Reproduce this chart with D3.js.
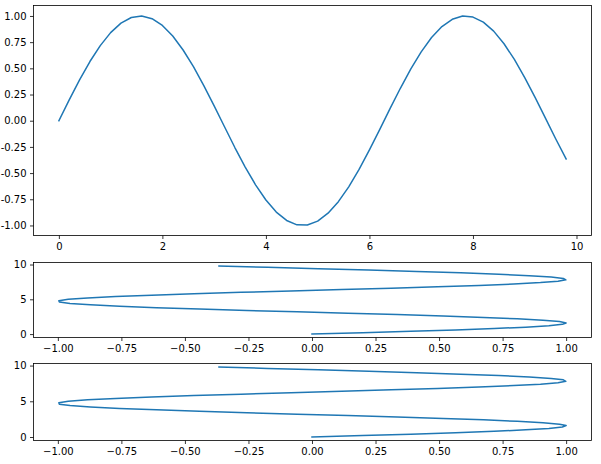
<!DOCTYPE html>
<html>
<head>
<meta charset="utf-8">
<script src="https://cdn.jsdelivr.net/npm/d3@7"></script>
<style>
  body { margin: 0; background: #fff; }
  svg { display: block; }
  .tick text { font-family: "DejaVu Sans", sans-serif; font-size: 10px; fill: #000; }
</style>
</head>
<body>
<svg id="fig" width="601" height="464"></svg>
<script>
const xs = [0, 0.2, 0.4, 0.6, 0.8, 1.0, 1.2, 1.4, 1.6, 1.8,
  2.0, 2.2, 2.4, 2.6, 2.8, 3.0, 3.2, 3.4, 3.6, 3.8,
  4.0, 4.2, 4.4, 4.6, 4.8, 5.0, 5.2, 5.4, 5.6, 5.8,
  6.0, 6.2, 6.4, 6.6, 6.8, 7.0, 7.2, 7.4, 7.6, 7.8,
  8.0, 8.2, 8.4, 8.6, 8.8, 9.0, 9.2, 9.4, 9.6, 9.8];
const ys = [0, 0.199, 0.389, 0.565, 0.717, 0.841, 0.932, 0.985, 1.000, 0.974,
  0.909, 0.808, 0.675, 0.516, 0.335, 0.141, -0.058, -0.256, -0.443, -0.612,
  -0.757, -0.872, -0.952, -0.994, -0.996, -0.959, -0.883, -0.773, -0.631, -0.465,
  -0.279, -0.083, 0.117, 0.312, 0.494, 0.657, 0.794, 0.899, 0.968, 0.999,
  0.989, 0.941, 0.855, 0.735, 0.585, 0.412, 0.223, 0.025, -0.175, -0.366];

const topXTicks = [0, 2, 4, 6, 8, 10];
const topYTicks = [-1, -0.75, -0.5, -0.25, 0, 0.25, 0.5, 0.75, 1];
const sideXTicks = [-1, -0.75, -0.5, -0.25, 0, 0.25, 0.5, 0.75, 1];
const sideYTicks = [0, 5, 10];

const left = 33.5, right = 591.5;
const panels = [
  { top: 5.5, bottom: 235.5, kind: 'wave', minus: '-' },
  { top: 262.5, bottom: 337.5, kind: 'side', minus: '\u2212' },
  { top: 363.5, bottom: 440.5, kind: 'side', minus: '\u2212' },
];

const svg = d3.select('#fig');
const blue = '#1f77b4';

// matplotlib style 5% margins
const padded = (arr) => {
  const [lo, hi] = d3.extent(arr);
  const p = (hi - lo) * 0.05;
  return [lo - p, hi + p];
};

const data = xs.map((x, i) => ({ x: x, y: ys[i] }));

const styleAxis = (g) => {
  g.select('.domain').remove();
  g.selectAll('.tick line').attr('stroke', '#000').attr('stroke-width', 0.8);
};

panels.forEach((p) => {
  let xScale, yScale, xTicks, yTicks, xFmt, yFmt, line;
  if (p.kind === 'wave') {
    xScale = d3.scaleLinear().domain(padded(xs)).range([left, right]);
    yScale = d3.scaleLinear().domain(padded(ys)).range([p.bottom, p.top]);
    xTicks = topXTicks; yTicks = topYTicks;
    xFmt = d => d3.format('d')(d);
    yFmt = d => d3.format('.2f')(d).replace('\u2212', p.minus).replace('-', p.minus);
    line = d3.line().x(d => xScale(d.x)).y(d => yScale(d.y));
  } else {
    xScale = d3.scaleLinear().domain(padded(ys)).range([left, right]);
    yScale = d3.scaleLinear().domain(padded(xs)).range([p.bottom, p.top]);
    xTicks = sideXTicks; yTicks = sideYTicks;
    xFmt = d => d3.format('.2f')(d).replace('-', p.minus).replace('\u2212', p.minus);
    yFmt = d => d3.format('d')(d);
    line = d3.line().x(d => xScale(d.y)).y(d => yScale(d.x));
  }

  const clipId = 'clip' + p.top;
  svg.append('clipPath').attr('id', clipId)
    .append('rect')
    .attr('x', left).attr('y', p.top)
    .attr('width', right - left).attr('height', p.bottom - p.top);

  svg.append('path')
    .datum(data)
    .attr('fill', 'none')
    .attr('stroke', blue)
    .attr('stroke-width', 1.5)
    .attr('stroke-linejoin', 'round')
    .attr('stroke-linecap', 'square')
    .attr('clip-path', `url(#${clipId})`)
    .attr('d', line);

  svg.append('g')
    .attr('transform', `translate(0,${p.bottom})`)
    .call(d3.axisBottom(xScale).tickValues(xTicks).tickFormat(xFmt)
      .tickSize(3.5).tickPadding(3.5))
    .call(styleAxis);

  svg.append('g')
    .attr('transform', `translate(${left},0)`)
    .call(d3.axisLeft(yScale).tickValues(yTicks).tickFormat(yFmt)
      .tickSize(3.5).tickPadding(3.5))
    .call(styleAxis);

  svg.append('rect')
    .attr('x', left).attr('y', p.top)
    .attr('width', right - left).attr('height', p.bottom - p.top)
    .attr('fill', 'none')
    .attr('stroke', '#000')
    .attr('stroke-width', 0.8);
});
</script>
</body>
</html>
